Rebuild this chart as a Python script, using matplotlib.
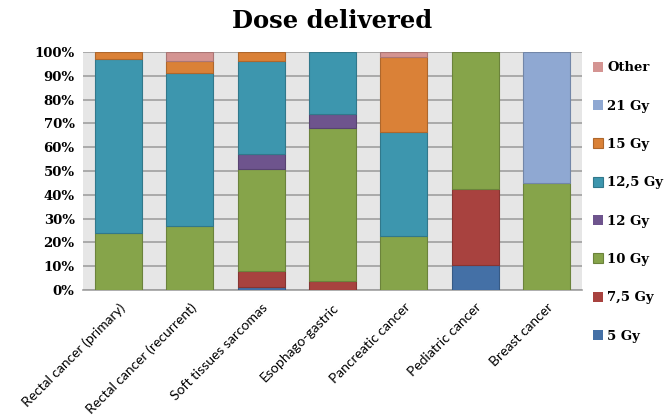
import numpy as np
import matplotlib.pyplot as plt
from matplotlib.colors import to_rgb
from matplotlib.ticker import PercentFormatter

categories = ['Rectal cancer (primary)', 'Rectal cancer (recurrent)', 'Soft tissues sarcomas',
              'Esophago-gastric', 'Pancreatic cancer', 'Pediatric cancer', 'Breast cancer']

# porcentaje de pacientes por dosis (de abajo hacia arriba)
series = ['5 Gy', '7,5 Gy', '10 Gy', '12 Gy', '12,5 Gy', '15 Gy', '21 Gy', 'Other']
gy5 = [0, 0, 1.5, 0, 0, 10.5, 0]
gy7_5 = [0, 0, 6.5, 4, 0, 32, 0]
gy10 = [24, 27, 43, 64, 22.5, 57.5, 45]
gy12 = [0, 0, 6, 6, 0, 0, 0]
gy12_5 = [73, 64, 39, 26, 44, 0, 0]
gy15 = [3, 5, 4, 0, 31.5, 0, 0]
gy21 = [0, 0, 0, 0, 0, 0, 55]
other = [0, 4, 0, 0, 2, 0, 0]

colores = ['#4470a6', '#a8423f', '#86a44a', '#6e548d', '#3d96ae', '#da8137', '#8fa8d2', '#d49492']


def oscurecer(c, f=0.8):
    r, g, b = to_rgb(c)
    return (r * f, g * f, b * f)


fig = plt.figure(figsize=(6.64, 4.15), dpi=100)
ax = fig.add_axes([0.125, 0.301, 0.7515, 0.574])
ax.set_facecolor('#e6e6e6')

x = np.arange(len(categories))
base = np.zeros(len(categories))
handles = []
for nombre, valores, color in zip(series, [gy5, gy7_5, gy10, gy12, gy12_5, gy15, gy21, other], colores):
    v = np.array(valores, dtype=float)
    # sin borde en los segmentos vacios
    lw = [0.8 if vi > 0 else 0 for vi in v]
    b = ax.bar(x, v, 0.66, bottom=base, color=color, edgecolor=oscurecer(color),
               linewidth=lw, label=nombre, zorder=3)
    handles.append(b)
    base += v

ax.set_xlim(-0.5, len(categories) - 0.5)
ax.set_ylim(0, 100)
ax.set_yticks(np.arange(0, 101, 10))
ax.yaxis.set_major_formatter(PercentFormatter(decimals=0))
ax.grid(axis='y', color='#a0a0a0', linewidth=1.2, zorder=1)
ax.tick_params(axis='y', length=0, pad=6)
ax.tick_params(axis='x', length=0, pad=8)
for s in ['top', 'right', 'left']:
    ax.spines[s].set_visible(False)
ax.spines['bottom'].set_color('#a0a0a0')
ax.spines['bottom'].set_linewidth(1.2)

for lbl in ax.get_yticklabels():
    lbl.set_fontfamily('DejaVu Serif')
    lbl.set_fontweight('bold')
    lbl.set_fontsize(9.5)

ax.set_xticks(x)
ax.set_xticklabels(categories, rotation=45, ha='right', rotation_mode='anchor',
                   fontsize=10, fontfamily='Lato')

fig.text(0.5, 0.95, 'Dose delivered', ha='center', va='center',
         fontsize=17.5, fontweight='bold', fontfamily='DejaVu Serif')

leg = fig.legend(handles[::-1], series[::-1], loc='upper left', bbox_to_anchor=(0.885, 0.865),
                 frameon=False, handlelength=0.8, handleheight=0.8, handletextpad=0.3,
                 labelspacing=1.92, borderaxespad=0,
                 prop={'family': 'DejaVu Serif', 'weight': 'bold', 'size': 9.5})

fig.savefig('out.png', dpi=100)
